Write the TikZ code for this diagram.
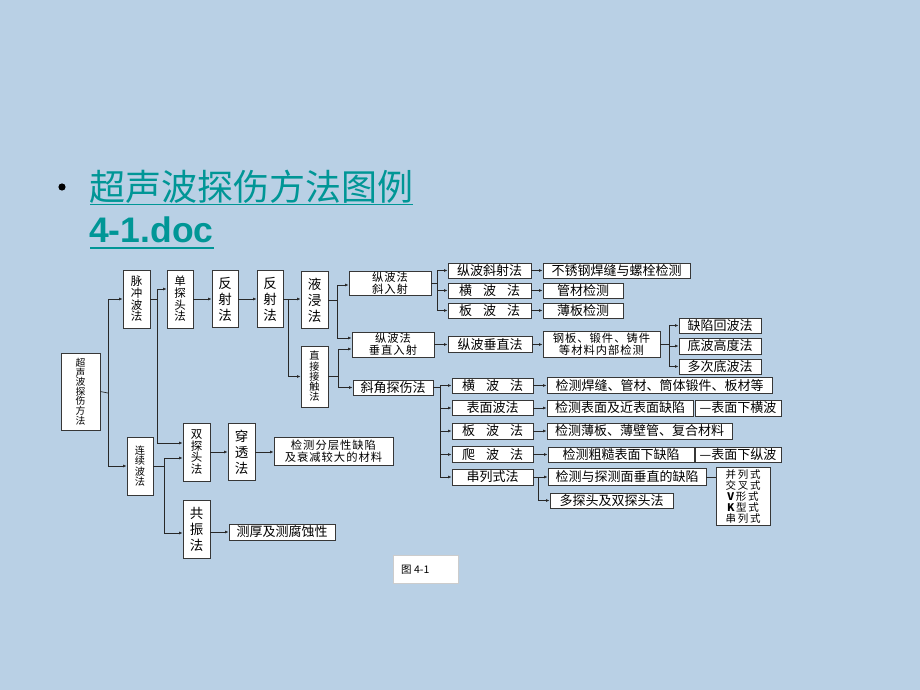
\documentclass[tikz,border=0pt]{standalone}
\usepackage{fontspec}
\newfontfamily\cjk{Noto Sans CJK SC}
\newfontfamily\lsans{Liberation Sans}
\usetikzlibrary{arrows.meta,calc}
\definecolor{bgc}{RGB}{185,208,229}
\definecolor{teal}{RGB}{0,150,150}
\definecolor{boxc}{RGB}{55,55,55}
\definecolor{linec}{RGB}{40,40,40}
\tikzset{
  bx/.style={draw=boxc, fill=white, line width=0.7pt, inner sep=0pt, align=center,
    font=\cjk\fontsize{13}{11}\selectfont},
  bx2/.style={bx, font=\cjk\fontsize{11.3}{11.8}\selectfont},
  vA/.style={bx, font=\cjk\fontsize{13.5}{16}\selectfont},
  vB/.style={bx, font=\cjk\fontsize{11.5}{11.7}\selectfont},
  vC/.style={bx, font=\cjk\fontsize{10.2}{10.3}\selectfont},
  vD/.style={bx, font=\cjk\fontsize{9.8}{9.6}\selectfont},
  ln/.style={draw=linec, line width=0.7pt},
  arr/.style={ln, -{Latex[length=3.5pt,width=2.8pt]}},
}
\newcommand{\gp}{\hspace{11pt}}
\newcommand{\hs}{\hspace{1pt}}
\begin{document}
\begin{tikzpicture}[x=1pt,y=-1pt]
\fill[bgc] (0,0) rectangle (920,690);
\useasboundingbox (0,0) rectangle (920,690);

% title
\fill[black] (62,187) circle[radius=3.6];
\node[anchor=base west, inner sep=0pt, text=teal, font=\cjk\fontsize{36}{36}\selectfont] (t1) at (89,200) {超声波探伤方法图例};
\node[anchor=base west, inner sep=0pt, text=teal, font=\lsans\bfseries\fontsize{35.5}{35.5}\selectfont] (t2) at (89,242) {4-1.doc};
\draw[teal, line width=1.8pt] ($(t1.base west)+(1,4.5)$) -- ($(t1.base east)+(0,4.5)$);
\draw[teal, line width=1.8pt] ($(t2.base west)+(1,5.7)$) -- ($(t2.base east)+(0,5.7)$);

% left part
\node[vD, minimum width=39, minimum height=77] (root) at (80.5,391.5) {超\\声\\波\\探\\伤\\方\\法};
\node[vB, minimum width=27, minimum height=58] (mc) at (136.5,299) {脉\\冲\\波\\法};
\node[vB, minimum width=26, minimum height=58] (dt) at (180,299) {单\\探\\头\\法};
\node[vA, minimum width=26, minimum height=57] (fs1) at (225,299) {反\\射\\法};
\node[vA, minimum width=26, minimum height=57] (fs2) at (270,299) {反\\射\\法};
\node[vA, minimum width=27, minimum height=57] (yj) at (314.5,300) {液\\浸\\法};
\node[vC, minimum width=27, minimum height=61] (zj) at (314.5,376.5) {直\\接\\接\\触\\法};
\node[vC, minimum width=26, minimum height=58] (lx) at (140,466) {连\\续\\波\\法};
\node[vB, minimum width=27, minimum height=58] (st) at (196.5,452) {双\\探\\头\\法};
\node[vA, minimum width=27, minimum height=57] (ct) at (241.5,452) {穿\\透\\法};
\node[bx2, minimum width=119, minimum height=28] (fc) at (333.5,451.5) {检\hs 测\hs 分\hs 层\hs 性\hs 缺\hs 陷\\及\hs 衰\hs 减\hs 较\hs 大\hs 的\hs 材\hs 料};
\node[vA, minimum width=27, minimum height=58] (gz) at (196.5,529) {共\\振\\法};
\node[bx, minimum width=106, minimum height=16] (ch) at (282,532) {测厚及测腐蚀性};
\node[draw=gray!40, fill=white, line width=0.5pt, minimum width=65, minimum height=28, inner sep=0pt] (fig) at (425.5,569) {};
\node[anchor=west, inner sep=0pt, font=\cjk\fontsize{10.5}{10.5}\selectfont] (figt) at (401,570) {图 4-1};

% middle
\node[bx2, minimum width=82, minimum height=24] (A1) at (390,283) {纵\hs 波\hs 法\\斜\hs 入\hs 射};
\node[bx2, minimum width=82, minimum height=25] (A2) at (393,344.5) {纵\hs 波\hs 法\\垂\hs 直\hs 入\hs 射};
\node[bx, minimum width=80, minimum height=15] (A3) at (393,387.5) {斜角探伤法};

\node[bx, minimum width=83, minimum height=15] (B1) at (489.5,270.5) {纵波斜射法};
\node[bx, minimum width=83, minimum height=15] (B2) at (489.5,290.5) {横\gp 波\gp 法};
\node[bx, minimum width=83, minimum height=15] (B3) at (489.5,310.5) {板\gp 波\gp 法};
\node[bx, minimum width=84, minimum height=16] (B4) at (490,344.5) {纵波垂直法};

\node[bx, minimum width=147, minimum height=15] (C1) at (616.5,270.5) {不锈钢焊缝与螺栓检测};
\node[bx, minimum width=80, minimum height=15] (C2) at (583,290.5) {管材检测};
\node[bx, minimum width=80, minimum height=15] (C3) at (583,310.5) {薄板检测};
\node[bx2, minimum width=117, minimum height=26] (C4) at (601.5,344.5) {钢\hs 板\hs 、\hs 锻\hs 件\hs 、\hs 铸\hs 件\\等\hs 材\hs 料\hs 内\hs 部\hs 检\hs 测};

\node[bx, minimum width=82, minimum height=15] (D1) at (720,325.5) {缺陷回波法};
\node[bx, minimum width=82, minimum height=16] (D2) at (720,346) {底波高度法};
\node[bx, minimum width=82, minimum height=15] (D3) at (720,366.5) {多次底波法};

\node[bx, minimum width=81, minimum height=15] (E1) at (492.5,385.5) {横\gp 波\gp 法};
\node[bx, minimum width=81, minimum height=15] (E2) at (492.5,408) {表面波法};
\node[bx, minimum width=81, minimum height=16] (E3) at (492.5,431) {板\gp 波\gp 法};
\node[bx, minimum width=81, minimum height=16] (E4) at (492.5,454.5) {爬\gp 波\gp 法};
\node[bx, minimum width=81, minimum height=16] (E5) at (492.5,477) {串列式法};

\node[bx, minimum width=225, minimum height=16] (F1) at (659.5,385.5) {检测焊缝、管材、筒体锻件、板材等};
\node[bx, minimum width=146, minimum height=16] (F2) at (620,408) {检测表面及近表面缺陷};
\node[bx, minimum width=86, minimum height=16] (G2) at (738,408) {—表面下横波};
\node[bx, minimum width=185, minimum height=16] (F3) at (639.5,431) {检测薄板、薄壁管、复合材料};
\node[bx, minimum width=146, minimum height=15] (F4) at (621,454.5) {检测粗糙表面下缺陷};
\node[bx, minimum width=86, minimum height=15] (G4) at (738,454.5) {—表面下纵波};
\node[bx, minimum width=158, minimum height=17] (F5) at (627,477) {检测与探测面垂直的缺陷};
\node[bx, minimum width=123, minimum height=15] (F6) at (611.5,500.5) {多探头及双探头法};
\node[bx, minimum width=54, minimum height=58, font=\cjk\fontsize{10.5}{11}\selectfont] (H) at (743,496.5)
  {并\,列\,式\\交\,叉\,式\\{\bfseries V}\,形\,式\\{\bfseries K}\,型\,式\\串\,列\,式};

% connectors
\coordinate (j1) at (108,393);
\draw[ln] (root.east) -- (j1);
\draw[arr] (j1) |- (mc.west);
\draw[arr] (j1) |- (lx.west);

\coordinate (j2) at (157,299);
\draw[ln] (mc.east) -- (j2);
\draw[arr] (j2) |- ($(dt.west)+(0,-10)$);
\draw[arr] (j2) |- ($(st.west)+(0,-9)$);

\coordinate (j3) at (164,466);
\draw[ln] (lx.east) -- (j3);
\draw[arr] (j3) |- ($(st.west)+(0,6)$);
\draw[arr] (j3) |- ($(gz.west)+(0,4)$);

\draw[arr] (st.east) -- (ct.west);
\draw[arr] (ct.east) -- (fc.west |- ct.east);
\draw[arr] (gz.east |- ch.west) -- (ch.west);

\draw[arr] (dt.east) -- (fs1.west);
\draw[arr] (fs1.east) -- (fs2.west);

\coordinate (j4) at (288,299);
\draw[ln] (fs2.east) -- (j4);
\draw[arr] (j4) -- (yj.west |- j4);
\draw[arr] (j4) |- (zj.west);

\coordinate (j5) at (337,300);
\draw[ln] (yj.east) -- (j5);
\draw[arr] (j5) |- ($(A1.west)+(0,2)$);
\draw[arr] (j5) |- ($(A2.west)+(0,-6.5)$);

\coordinate (j6) at (338,376.5);
\draw[ln] (zj.east) -- (j6);
\draw[arr] (j6) |- ($(A2.west)+(0,4.5)$);
\draw[arr] (j6) |- (A3.west);

\coordinate (j7) at (437,283);
\draw[ln] (A1.east) -- (j7);
\draw[arr] (j7) |- (B1.west);
\draw[arr] (j7) |- (B2.west);
\draw[arr] (j7) |- (B3.west);

\draw[arr] (B1.east) -- (C1.west);
\draw[arr] (B2.east) -- (C2.west);
\draw[arr] (B3.east) -- (C3.west);
\draw[arr] (A2.east) -- (B4.west);
\draw[arr] (B4.east) -- (C4.west);

\coordinate (j8) at (669,344.5);
\draw[ln] (C4.east) -- (j8);
\draw[arr] (j8) |- (D1.west);
\draw[arr] (j8) |- (D2.west);
\draw[arr] (j8) |- (D3.west);

\coordinate (j9) at (440,387.5);
\draw[ln] (A3.east) -- (j9);
\draw[arr] (j9) |- (E1.west);
\draw[arr] (j9) |- (E2.west);
\draw[arr] (j9) |- (E3.west);
\draw[arr] (j9) |- (E4.west);
\draw[arr] (j9) |- (E5.west);

\draw[arr] (E1.east) -- (F1.west);
\draw[arr] (E2.east) -- (F2.west);
\draw[arr] (E3.east) -- (F3.west);
\draw[arr] (E4.east) -- (F4.west);
\draw[arr] (E5.east) -- (F5.west);

\coordinate (j10) at (538,477);
\draw[arr] (j10) |- (F6.west);
\draw[ln] (F5.east) -- (H.west |- F5.east);
\end{tikzpicture}
\end{document}
